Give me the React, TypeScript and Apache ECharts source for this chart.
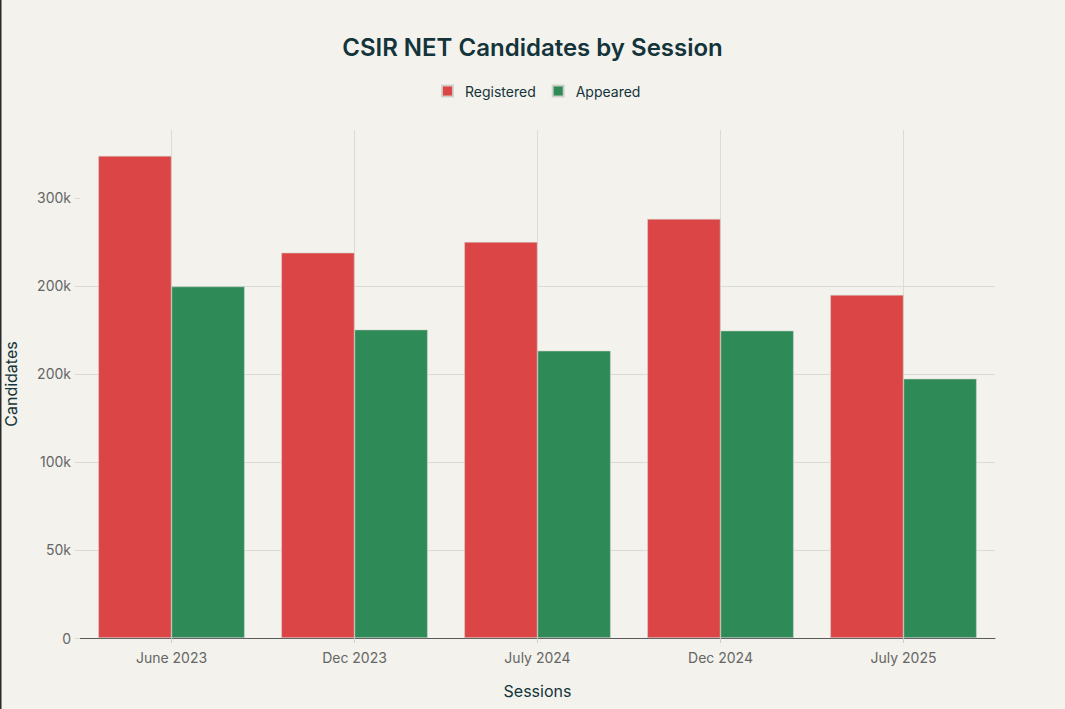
import React, { useEffect, useRef } from "react";
import * as echarts from "echarts";

const categories = ["June 2023", "Dec 2023", "July 2024", "Dec 2024", "July 2025"];
const registered = [273900, 218900, 225000, 238100, 194900];
const appeared = [199700, 175200, 163200, 174600, 147300];
const tickValues = [0, 50000, 100000, 150000, 200000, 250000];
const tickLabels = ["0", "50k", "100k", "200k", "200k", "300k"];

const FONT = "Inter, 'Noto Sans', sans-serif";

export default function App() {
  const ref = useRef<HTMLDivElement>(null);
  useEffect(() => {
    if (!ref.current) return;
    const chart = echarts.init(ref.current, undefined, { renderer: "svg" });
    chart.setOption({
      animation: false,
      backgroundColor: "#f3f2ec",
      textStyle: { fontFamily: FONT },
      title: {
        text: "CSIR NET Candidates by Session",
        left: "center",
        top: 30,
        textStyle: { fontSize: 24, fontWeight: 600, color: "#13343b", fontFamily: FONT },
      },
      legend: {
        top: 84,
        left: 441,
        icon: "rect",
        itemWidth: 11,
        itemHeight: 11,
        itemGap: 16,
        padding: 0,
        textStyle: { fontSize: 14, color: "#13343b", fontFamily: FONT, padding: [0, 0, 0, 7] },
        data: ["Registered", "Appeared"],
      },
      graphic: [
        { type: "rect", shape: { x: 0, y: 0, width: 1.5, height: 709 }, style: { fill: "#2a2a2a" } },
      ],
      grid: { left: 80, right: 70, top: 130, bottom: 71, containLabel: false, outerBoundsMode: "none" },
      xAxis: {
        type: "category",
        data: categories,
        name: "Sessions",
        nameLocation: "middle",
        nameGap: 45,
        nameTextStyle: { fontSize: 16, color: "#13343b", fontFamily: FONT },
        axisLine: { show: true, lineStyle: { color: "#5a5a5a", width: 1 } },
        axisTick: { show: true, alignWithLabel: true, length: 5, lineStyle: { color: "#cfcfc9" } },
        axisLabel: { fontSize: 14, color: "#666", margin: 12, fontFamily: FONT },
        splitLine: { show: true, alignWithLabel: true, lineStyle: { color: "#dcdcd6", width: 1 } },
      },
      yAxis: {
        type: "value",
        min: 0,
        max: 288600,
        interval: 50000,
        name: "Candidates",
        nameLocation: "middle",
        nameGap: 61,
        nameTextStyle: { fontSize: 16, color: "#13343b", fontFamily: FONT },
        axisLine: { show: false },
        axisTick: { show: true, length: 5, customValues: tickValues, lineStyle: { color: "#dcdcd6" } },
        axisLabel: {
          fontSize: 14,
          color: "#666",
          margin: 9,
          fontFamily: FONT,
          formatter: (v: number) => {
            const i = tickValues.indexOf(v);
            return i >= 0 ? tickLabels[i] : "";
          },
        },
        splitLine: { show: true, showMaxLine: false, lineStyle: { color: "#dcdcd6", width: 1 } },
      },
      series: [
        {
          name: "Registered",
          type: "bar",
          data: registered,
          barGap: "0%",
          barCategoryGap: "20%",
          itemStyle: { color: "#db4545", borderColor: "rgba(210,210,205,0.9)", borderWidth: 0.6 },
        },
        {
          name: "Appeared",
          type: "bar",
          data: appeared,
          barGap: "0%",
          barCategoryGap: "20%",
          itemStyle: { color: "#2e8b57", borderColor: "rgba(210,210,205,0.9)", borderWidth: 0.6 },
        },
      ],
    });
    return () => chart.dispose();
  }, []);
  return (
    <div
      ref={ref}
      style={{ position: "absolute", left: 0, top: 0, width: 1065, height: 709 }}
    />
  );
}
